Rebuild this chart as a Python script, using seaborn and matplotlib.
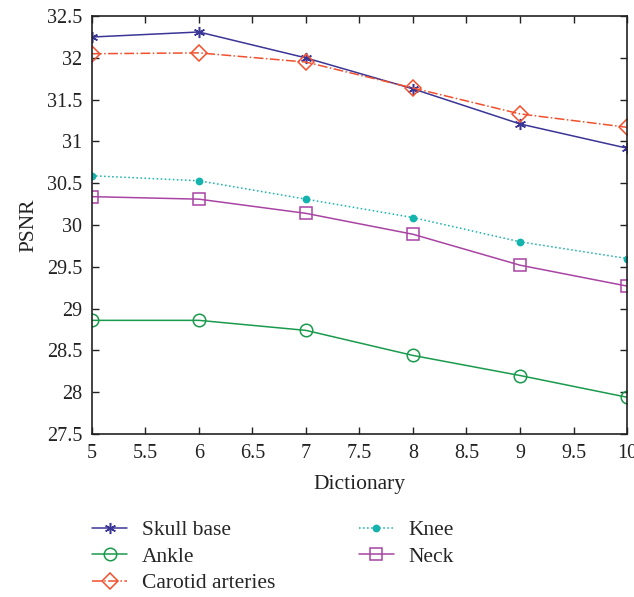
import matplotlib
matplotlib.use("Agg")
import matplotlib.pyplot as plt
import seaborn as sns
import pandas as pd

dictionary = [5, 6, 7, 8, 9, 10]
skull_base = [32.25, 32.31, 32.00, 31.63, 31.21, 30.92]
ankle = [28.86, 28.86, 28.74, 28.44, 28.20, 27.94]
carotid = [32.05, 32.06, 31.95, 31.64, 31.33, 31.17]
knee = [30.59, 30.53, 30.31, 30.09, 29.80, 29.60]
neck = [30.34, 30.31, 30.14, 29.89, 29.52, 29.27]

series = {
    "Skull base": skull_base,
    "Ankle": ankle,
    "Carotid arteries": carotid,
    "Knee": knee,
    "Neck": neck,
}
styles = {
    "Skull base": dict(color="#3a3596", ls="-", marker=(6, 2, 0), ms=8, mfc="#3a3596"),
    "Ankle": dict(color="#1a9a4c", ls="-", marker="o", ms=9, mfc="none"),
    "Carotid arteries": dict(color="#f0502d", ls="-.", marker="D", ms=8, mfc="none"),
    "Knee": dict(color="#14b3ad", ls=":", marker="o", ms=4.5, mfc="#14b3ad"),
    "Neck": dict(color="#a844a3", ls="-", marker="s", ms=9, mfc="none"),
}

df = pd.DataFrame(
    [(name, x, y) for name, vals in series.items() for x, y in zip(dictionary, vals)],
    columns=["series", "Dictionary", "PSNR"],
)

sns.set_theme(style="ticks")
plt.rcParams["font.family"] = ["Liberation Serif", "DejaVu Serif"]

fig = plt.figure(figsize=(6.34, 5.97), dpi=100)
ax = fig.add_axes([0.145, 0.273, 0.844, 0.700])

for name in series:
    st = styles[name]
    sub = df[df["series"] == name]
    sns.lineplot(
        data=sub, x="Dictionary", y="PSNR", ax=ax, label=name,
        color=st["color"], linestyle=st["ls"], linewidth=1.1,
        marker=st["marker"], markersize=st["ms"],
        markerfacecolor=st["mfc"], markeredgecolor=st["color"],
        markeredgewidth=1.1,
    )

ax.set_xlim(5, 10)
ax.set_ylim(27.5, 32.5)
ax.set_xticks([5, 5.5, 6, 6.5, 7, 7.5, 8, 8.5, 9, 9.5, 10])
ax.set_xticklabels(["5", "5.5", "6", "6.5", "7", "7.5", "8", "8.5", "9", "9.5", "10"])
ax.set_yticks([27.5, 28, 28.5, 29, 29.5, 30, 30.5, 31, 31.5, 32, 32.5])
ax.set_yticklabels(["27.5", "28", "28.5", "29", "29.5", "30", "30.5", "31", "31.5", "32", "32.5"])
ax.tick_params(direction="in", top=True, right=True, labelsize=14.5, length=5,
               width=1, colors="#222222", pad=7)
for sp in ax.spines.values():
    sp.set_linewidth(1.2)
    sp.set_color("#222222")
ax.set_xlabel("Dictionary", fontsize=15.5, color="#222222", labelpad=9)
ax.set_ylabel("PSNR", fontsize=15.5, color="#222222", labelpad=6)

handles, labels = ax.get_legend_handles_labels()
ax.get_legend().remove()
fig.legend(handles, labels, ncol=2, loc="upper left", bbox_to_anchor=(0.115, 0.161),
           frameon=False, fontsize=15.5, handlelength=1.6, columnspacing=3.9,
           labelspacing=0.3, handletextpad=0.7)

fig.savefig("out.png", dpi=100)
